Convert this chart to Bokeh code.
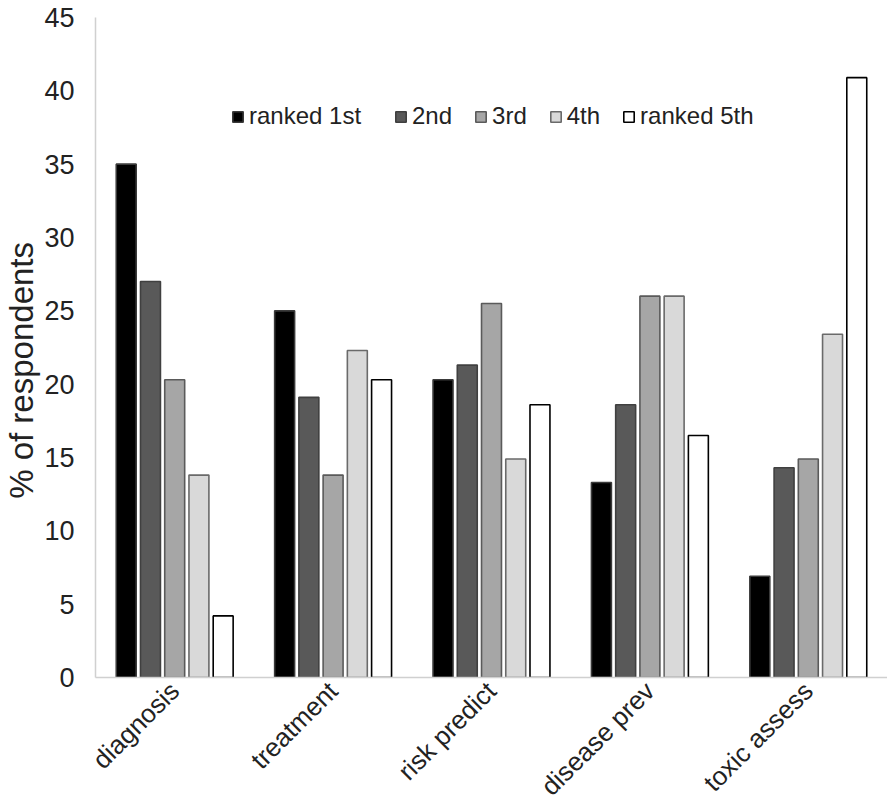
import math
from bokeh.plotting import figure
from bokeh.models import ColumnDataSource, FactorRange, Range1d, Legend, LegendItem
from bokeh.transform import dodge
from bokeh.embed import file_html
from bokeh.resources import INLINE

categories = ["diagnosis", "treatment", "risk predict", "disease prev", "toxic assess"]
rank_labels = ["ranked 1st", "2nd", "3rd", "4th", "ranked 5th"]
ranked_1st = [35.0, 25.0, 20.3, 13.3, 6.9]
ranked_2nd = [27.0, 19.1, 21.3, 18.6, 14.3]
ranked_3rd = [20.3, 13.8, 25.5, 26.0, 14.9]
ranked_4th = [13.8, 22.3, 14.9, 26.0, 23.4]
ranked_5th = [4.2, 20.3, 18.6, 16.5, 40.9]
y_ticks = [0, 5, 10, 15, 20, 25, 30, 35, 40, 45]
y_title = "% of respondents"

src = ColumnDataSource(dict(cat=categories, r1=ranked_1st, r2=ranked_2nd,
                            r3=ranked_3rd, r4=ranked_4th, r5=ranked_5th))

FONT = "Liberation Sans"

p = figure(x_range=FactorRange(*categories, range_padding=0),
           y_range=Range1d(0, 45),
           frame_width=792, frame_height=660,
           output_backend="svg", toolbar_location=None,
           min_border_left=94, min_border_top=17, min_border_right=0,
           min_border_bottom=10)

fills = ["#000000", "#595959", "#a6a6a6", "#d9d9d9", "#ffffff"]
lines = ["#3a3a3a", "#404040", "#5a5a5a", "#6a6a6a", "#000000"]
keys = ["r1", "r2", "r3", "r4", "r5"]
offsets = [-0.306, -0.153, 0.0, 0.153, 0.306]

renderers = []
for k, fc, lc, off in zip(keys, fills, lines, offsets):
    r = p.vbar(x=dodge("cat", off, range=p.x_range), top=k, width=0.126,
               source=src, fill_color=fc, line_color=lc, line_width=1.6)
    renderers.append(r)

p.xgrid.visible = False
p.ygrid.visible = False
p.outline_line_color = None
p.background_fill_color = "white"
p.border_fill_color = "white"

p.yaxis.ticker = y_ticks
p.yaxis.axis_line_color = "#d0d0d0"
p.yaxis.axis_line_width = 1.5
p.yaxis.major_tick_line_color = None
p.yaxis.minor_tick_line_color = None
p.yaxis.major_label_text_font = FONT
p.yaxis.major_label_text_font_size = "27px"
p.yaxis.major_label_text_color = "#222222"
p.yaxis.major_label_standoff = 15
p.yaxis.axis_label = y_title + "\u00a0" * 5
p.yaxis.axis_label_text_font = FONT
p.yaxis.axis_label_text_font_size = "33px"
p.yaxis.axis_label_text_font_style = "normal"
p.yaxis.axis_label_text_color = "#222222"
p.yaxis.axis_label_standoff = 1

p.xaxis.axis_line_color = "#d0d0d0"
p.xaxis.axis_line_width = 1.5
p.xaxis.major_tick_line_color = None
p.xaxis.minor_tick_line_color = None
p.xaxis.major_label_orientation = math.pi / 4
p.xaxis.major_label_text_font = FONT
p.xaxis.major_label_text_font_size = "26px"
p.xaxis.major_label_text_color = "#222222"
p.xaxis.major_label_standoff = 3


def make_legend(items, loc):
    lg = Legend(items=items, location=loc, orientation="horizontal")
    lg.border_line_color = None
    lg.background_fill_alpha = 0
    lg.padding = 0
    lg.margin = 0
    lg.spacing = 22
    lg.glyph_width = 13
    lg.glyph_height = 13
    lg.label_standoff = 5
    lg.label_text_font = FONT
    lg.label_text_font_size = "24px"
    lg.label_text_color = "#222222"
    p.add_layout(lg, "center")


make_legend([LegendItem(label=rank_labels[0], renderers=[renderers[0]])], (136, 547))
make_legend([LegendItem(label=rank_labels[i], renderers=[renderers[i]]) for i in range(1, 5)],
            (299, 547))

open("out.html", "w").write(file_html(p, INLINE))
